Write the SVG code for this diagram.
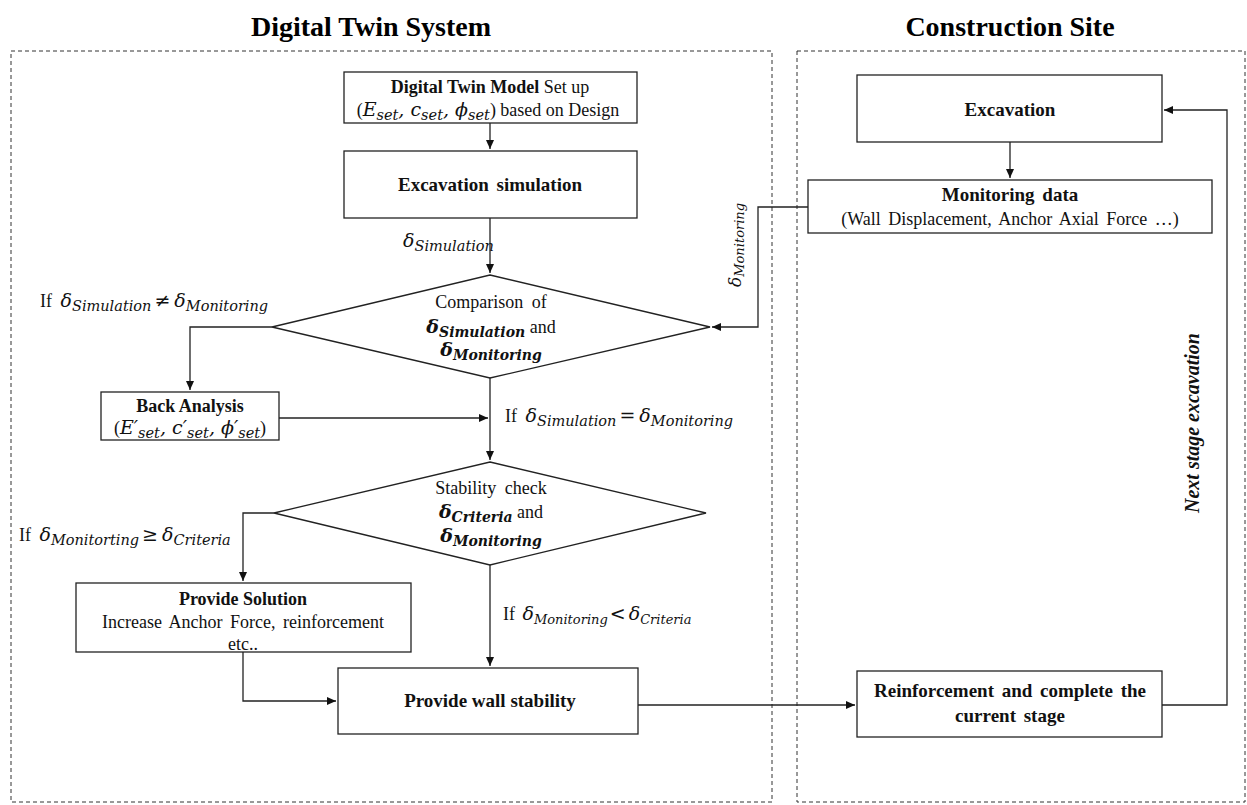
<svg xmlns="http://www.w3.org/2000/svg" width="1247" height="805" viewBox="0 0 1247 805">
<style>
.tx{font-family:"Liberation Serif",serif;font-size:18px;fill:#111}
.bd{font-weight:bold}
.ti{font-family:"Liberation Serif",serif;font-size:28px;font-weight:bold;fill:#000}
.mi{font-family:"DejaVu Serif",serif;font-style:italic;font-size:19px}
.sb{font-family:"DejaVu Serif",serif;font-style:italic;font-size:14.5px}
.mb{font-family:"DejaVu Serif",serif;font-style:italic;font-weight:bold;font-size:19px}
.sbb{font-family:"DejaVu Serif",serif;font-style:italic;font-weight:bold;font-size:14px}
.box{fill:#fff;stroke:#222;stroke-width:1.3}
.dash{fill:none;stroke:#333;stroke-width:1;stroke-dasharray:4 3}
.ln{fill:none;stroke:#222;stroke-width:1.3}
</style>
<defs>
<marker id="ah" markerWidth="10" markerHeight="10" refX="9" refY="5" orient="auto" markerUnits="userSpaceOnUse">
<path d="M0,1 L9,5 L0,9 Z" fill="#111"/>
</marker>
</defs>
<rect width="1247" height="805" fill="#fff"/>

<g id="titles">
<text class="ti" x="371" y="36" text-anchor="middle">Digital Twin System</text>
<text class="ti" x="1010" y="36" text-anchor="middle">Construction Site</text>
</g>

<g id="panels">
<rect class="dash" x="11" y="51" width="761" height="751"/>
<rect class="dash" x="797" y="51" width="448" height="751"/>
</g>

<g id="connectors">
<path class="ln" d="M490,123 V149" marker-end="url(#ah)"/>
<path class="ln" d="M490,218 V273" marker-end="url(#ah)"/>
<path class="ln" d="M272,327 H190 V390" marker-end="url(#ah)"/>
<path class="ln" d="M279,418 H488" marker-end="url(#ah)"/>
<path class="ln" d="M490,378 V460" marker-end="url(#ah)"/>
<path class="ln" d="M808,207 H758 V327 H712" marker-end="url(#ah)"/>
<path class="ln" d="M274,513 H243 V581" marker-end="url(#ah)"/>
<path class="ln" d="M490,565 V666" marker-end="url(#ah)"/>
<path class="ln" d="M243,652 V701 H336" marker-end="url(#ah)"/>
<path class="ln" d="M638,705 H855" marker-end="url(#ah)"/>
<path class="ln" d="M1162,705 H1227 V110 H1164" marker-end="url(#ah)"/>
<path class="ln" d="M1010,142 V178" marker-end="url(#ah)"/>
</g>

<g id="edge-labels">
<text class="tx" x="403" y="247"><tspan class="mi">δ</tspan><tspan class="sb" dy="4">Simulation</tspan></text>
<text class="tx" x="40" y="307">If <tspan class="mi" dx="4">δ</tspan><tspan class="sb" dy="4">Simulation</tspan><tspan class="mi" dy="-4" dx="3">≠</tspan><tspan class="mi" dx="4">δ</tspan><tspan class="sb" dy="4">Monitoring</tspan></text>
<text class="tx" x="505" y="422">If <tspan class="mi" dx="4">δ</tspan><tspan class="sb" dy="4">Simulation</tspan><tspan class="mi" dy="-4" dx="3">=</tspan><tspan class="mi" dx="4">δ</tspan><tspan class="sb" dy="4">Monitoring</tspan></text>
<text class="tx" x="19" y="541">If <tspan class="mi" dx="4">δ</tspan><tspan class="sb" dy="4">Monitorting</tspan><tspan class="mi" dy="-4" dx="3">≥</tspan><tspan class="mi" dx="4">δ</tspan><tspan class="sb" dy="4">Criteria</tspan></text>
<text class="tx" x="503" y="620">If <tspan class="mi" dx="3">δ</tspan><tspan class="sb" dy="4" style="font-size:13px">Monitoring</tspan><tspan class="mi" dy="-4" dx="2">&lt;</tspan><tspan class="mi" dx="3">δ</tspan><tspan class="sb" dy="4" style="font-size:13px">Criteria</tspan></text>
<text class="tx" transform="translate(741,245) rotate(-90)" text-anchor="middle"><tspan class="mi" style="font-size:17px">δ</tspan><tspan class="sb" dy="3" style="font-size:13px">Monitoring</tspan></text>
<text class="tx bd" transform="translate(1199,423) rotate(-90)" text-anchor="middle" style="font-style:italic;font-size:20px">Next stage excavation</text>
</g>

<g id="node-dt-model">
<rect class="box" x="344" y="72" width="293" height="51"/>
<text class="tx" x="490" y="93" text-anchor="middle"><tspan class="bd">Digital Twin Model</tspan> Set up</text>
<text class="tx" x="488" y="116" text-anchor="middle">(<tspan class="mi">E</tspan><tspan class="sb" dy="4">set</tspan><tspan dy="-4" class="mi">, </tspan><tspan class="mi">c</tspan><tspan class="sb" dy="4">set</tspan><tspan dy="-4" class="mi">, </tspan><tspan class="mi">ϕ</tspan><tspan class="sb" dy="4">set</tspan><tspan dy="-4">) based on Design</tspan></text>
</g>

<g id="node-exc-sim">
<rect class="box" x="344" y="151" width="293" height="67"/>
<text class="tx bd" x="490" y="191" text-anchor="middle" style="font-size:19px" word-spacing="3">Excavation simulation</text>
</g>

<g id="node-compare">
<polygon class="box" points="490,275 710,327 490,378 272,327"/>
<text class="tx" x="491" y="308" text-anchor="middle" word-spacing="4">Comparison of</text>
<text class="tx" x="491" y="333" text-anchor="middle"><tspan class="mb">δ</tspan><tspan class="sbb" dy="4">Simulation</tspan><tspan dy="-4"> and</tspan></text>
<text class="tx" x="491" y="356" text-anchor="middle"><tspan class="mb">δ</tspan><tspan class="sbb" dy="4">Monitoring</tspan></text>
</g>

<g id="node-back">
<rect class="box" x="101" y="392" width="178" height="48"/>
<text class="tx bd" x="190" y="412" text-anchor="middle">Back Analysis</text>
<text class="tx" x="190" y="434" text-anchor="middle">(<tspan class="mi">E′</tspan><tspan class="sb" dy="4">set</tspan><tspan dy="-4" class="mi">, </tspan><tspan class="mi">c′</tspan><tspan class="sb" dy="4">set</tspan><tspan dy="-4" class="mi">, </tspan><tspan class="mi">ϕ′</tspan><tspan class="sb" dy="4">set</tspan><tspan dy="-4">)</tspan></text>
</g>

<g id="node-stability">
<polygon class="box" points="490,462 706,513 490,565 274,513"/>
<text class="tx" x="491" y="494" text-anchor="middle" word-spacing="4">Stability check</text>
<text class="tx" x="491" y="518" text-anchor="middle"><tspan class="mb">δ</tspan><tspan class="sbb" dy="4">Criteria</tspan><tspan dy="-4"> and</tspan></text>
<text class="tx" x="491" y="542" text-anchor="middle"><tspan class="mb">δ</tspan><tspan class="sbb" dy="4">Monitoring</tspan></text>
</g>

<g id="node-solution">
<rect class="box" x="76" y="583" width="335" height="69"/>
<text class="tx bd" x="243" y="605" text-anchor="middle">Provide Solution</text>
<text class="tx" x="243" y="628" text-anchor="middle" word-spacing="3">Increase Anchor Force, reinforcement</text>
<text class="tx" x="243" y="650" text-anchor="middle">etc..</text>
</g>

<g id="node-wall">
<rect class="box" x="338" y="668" width="300" height="66"/>
<text class="tx bd" x="490" y="707" text-anchor="middle" style="font-size:19px">Provide wall stability</text>
</g>

<g id="node-excavation">
<rect class="box" x="857" y="75" width="305" height="67"/>
<text class="tx bd" x="1010" y="116" text-anchor="middle" style="font-size:19px">Excavation</text>
</g>

<g id="node-monitoring">
<rect class="box" x="808" y="180" width="404" height="53"/>
<text class="tx bd" x="1010" y="201" text-anchor="middle" style="font-size:19px" word-spacing="3">Monitoring data</text>
<text class="tx" x="1010" y="225" text-anchor="middle" word-spacing="3">(Wall Displacement, Anchor Axial Force …)</text>
</g>

<g id="node-reinforce">
<rect class="box" x="857" y="671" width="305" height="66"/>
<text class="tx bd" x="1010" y="697" text-anchor="middle" style="font-size:19px" word-spacing="3">Reinforcement and complete the</text>
<text class="tx bd" x="1010" y="722" text-anchor="middle" style="font-size:19px" word-spacing="3">current stage</text>
</g>
</svg>
